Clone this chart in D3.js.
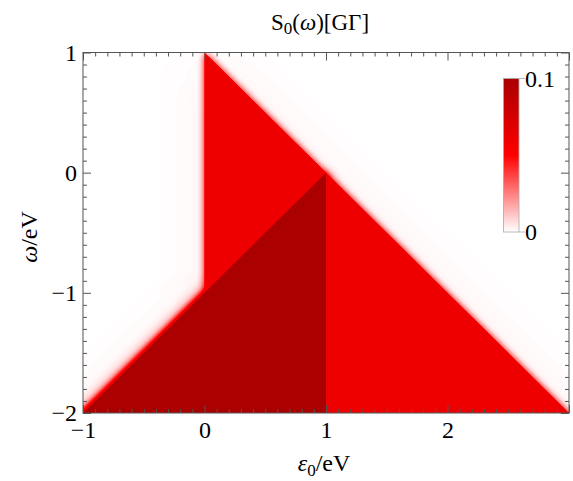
<!DOCTYPE html>
<html><head><meta charset="utf-8">
<script src="https://cdn.jsdelivr.net/npm/d3@7"></script>
<style>
html,body{margin:0;padding:0;background:#fff;}
text{font-family:"Liberation Serif","Times New Roman",serif;fill:#000;}
</style></head>
<body>
<svg id="chart" width="573" height="481"></svg>
<script>
// ---- data ----
const xDomain = [-1, 3];
const yDomain = [-2, 1];
const xTickLabels = [-1, 0, 1, 2];
const xMajorTicks = [-1, 0, 1, 2, 3];
const yTickLabels = [-2, -1, 0, 1];
// region polygons (epsilon_0, omega) (extended past the frame bottom)
const outerEps   = [-1.3, 0, 0, 3.3];
const outerOmega = [-2.3, -1, 1, -2.3];
const darkEps    = [-1.3, 1, 1];
const darkOmega  = [-2.3, 0, -2.3];
const outerValue = 0.06;
const darkValue  = 0.1;
const hazeValue  = 0.004;
const colorDomain = [0, 0.05, 0.1];
const colorRange  = ["#ffffff", "#ff0000", "#aa0000"];
const cbTicks = [0, 0.1];
const cbTickText = ["0", "0.1"];

const svg = d3.select("#chart");
const W = 573, H = 481;
const m = {left: 83, right: 569, top: 52.5, bottom: 413};
const x = d3.scaleLinear().domain(xDomain).range([m.left, m.right]);
const y = d3.scaleLinear().domain(yDomain).range([m.bottom, m.top]);
const vmax = colorDomain[colorDomain.length - 1];
const gray = v => { const g = Math.round(255 * v / vmax); return `rgb(${g},${g},${g})`; };
const line = d3.line().x(d => x(d[0])).y(d => y(d[1]));
const outerPts = outerEps.map((e, i) => [e, outerOmega[i]]);
const darkPts = darkEps.map((e, i) => [e, darkOmega[i]]);

const defs = svg.append("defs");
defs.append("clipPath").attr("id", "plotClip").append("rect")
  .attr("x", m.left).attr("y", m.top).attr("width", m.right - m.left).attr("height", m.bottom - m.top);
defs.append("clipPath").attr("id", "outsideOuter").append("path")
  .attr("clip-rule", "evenodd")
  .attr("d", `M0,0H${W}V${H}H0Z` + line(outerPts) + "Z");
function blurFilter(id, sd) {
  defs.append("filter").attr("id", id).attr("x", "-50%").attr("y", "-50%").attr("width", "200%").attr("height", "200%")
    .attr("color-interpolation-filters", "sRGB")
    .append("feGaussianBlur").attr("stdDeviation", sd);
}
blurFilter("blurHaze", 28);
blurFilter("blurEdge", 3.5);
blurFilter("blurWide", 8);
blurFilter("blurTiny", 0.7);
// color map filter: gray level -> colour through the colour scale
const cmap = defs.append("filter").attr("id", "cmap").attr("x", 0).attr("y", 0).attr("width", "100%").attr("height", "100%")
  .attr("color-interpolation-filters", "sRGB");
const ct = cmap.append("feComponentTransfer");
const cols = colorRange.map(c => d3.rgb(c));
ct.append("feFuncR").attr("type", "table").attr("tableValues", cols.map(c => (c.r / 255).toFixed(4)).join(" "));
ct.append("feFuncG").attr("type", "table").attr("tableValues", cols.map(c => (c.g / 255).toFixed(4)).join(" "));
ct.append("feFuncB").attr("type", "table").attr("tableValues", cols.map(c => (c.b / 255).toFixed(4)).join(" "));
ct.append("feFuncA").attr("type", "identity");

// ---- density image ----
const plot = svg.append("g").attr("clip-path", "url(#plotClip)");
const dens = plot.append("g").attr("filter", "url(#cmap)").style("isolation", "isolate");
dens.append("rect").attr("x", m.left - 2).attr("y", m.top - 2).attr("width", m.right - m.left + 4).attr("height", m.bottom - m.top + 4).attr("fill", "#000");
dens.append("path").attr("d", line(outerPts) + "Z").attr("fill", gray(hazeValue)).attr("filter", "url(#blurHaze)").style("mix-blend-mode", "lighten");
dens.append("path").attr("d", line(outerPts) + "Z").attr("fill", gray(outerValue)).attr("filter", "url(#blurEdge)").style("mix-blend-mode", "lighten");
const dOut = dens.append("g").attr("clip-path", "url(#outsideOuter)").style("mix-blend-mode", "lighten");
dOut.append("path").attr("d", line(darkPts) + "Z").attr("fill", gray(darkValue * 0.55)).attr("filter", "url(#blurWide)");
dOut.append("path").attr("d", line(darkPts) + "Z").attr("fill", gray(darkValue)).attr("filter", "url(#blurEdge)").style("mix-blend-mode", "lighten");
dens.append("path").attr("d", line(outerPts) + "Z").attr("fill", gray(outerValue)).attr("filter", "url(#blurTiny)").style("mix-blend-mode", "lighten");
dens.append("path").attr("d", line(darkPts) + "Z").attr("fill", gray(darkValue)).attr("filter", "url(#blurTiny)").style("mix-blend-mode", "lighten");

// ---- axes ----
const frameColor = "#555";
const minorX = d3.range(-10, 31).map(i => i / 10).filter(v => !xMajorTicks.includes(v));
const minorY = d3.range(-20, 11).map(i => i / 10).filter(v => !yTickLabels.includes(v));
const fmt = d => d3.format("d")(d);
function styleAxis(g) {
  g.select(".domain").remove();
  g.selectAll("line").attr("stroke", frameColor).attr("stroke-width", 1);
  g.selectAll("text").style("font-size", "24px").attr("fill", "#000").style("font-family", '"Liberation Serif", serif');
}
// bottom
svg.append("g").attr("transform", `translate(0,${m.bottom})`)
  .call(d3.axisBottom(x).tickValues(minorX).tickSize(-4).tickFormat("")).call(styleAxis);
svg.append("g").attr("transform", `translate(0,${m.bottom})`)
  .call(d3.axisBottom(x).tickValues(xMajorTicks).tickSize(-8).tickPadding(8).tickFormat(d => xTickLabels.includes(d) ? fmt(d) : "")).call(styleAxis);
// top
svg.append("g").attr("transform", `translate(0,${m.top})`)
  .call(d3.axisTop(x).tickValues(minorX).tickSize(-4).tickFormat("")).call(styleAxis);
svg.append("g").attr("transform", `translate(0,${m.top})`)
  .call(d3.axisTop(x).tickValues(xMajorTicks).tickSize(-8).tickFormat("")).call(styleAxis);
// left
svg.append("g").attr("transform", `translate(${m.left},0)`)
  .call(d3.axisLeft(y).tickValues(minorY).tickSize(-4).tickFormat("")).call(styleAxis);
svg.append("g").attr("transform", `translate(${m.left},0)`)
  .call(d3.axisLeft(y).tickValues(yTickLabels).tickSize(-8).tickPadding(6).tickFormat(fmt)).call(styleAxis);
// right
svg.append("g").attr("transform", `translate(${m.right},0)`)
  .call(d3.axisRight(y).tickValues(minorY).tickSize(-4).tickFormat("")).call(styleAxis);
svg.append("g").attr("transform", `translate(${m.right},0)`)
  .call(d3.axisRight(y).tickValues(yTickLabels).tickSize(-8).tickFormat("")).call(styleAxis);
// frame
svg.append("rect").attr("x", m.left).attr("y", m.top).attr("width", m.right - m.left).attr("height", m.bottom - m.top)
  .attr("fill", "none").attr("stroke", frameColor).attr("stroke-width", 1);

// ---- colorbar ----
const cb = {x: 503.5, w: 15.5, top: 78.5, bottom: 232};
const cbScale = d3.scaleLinear().domain([0, vmax]).range([cb.bottom, cb.top]);
const grad = defs.append("linearGradient").attr("id", "cbGrad").attr("x1", 0).attr("y1", 1).attr("x2", 0).attr("y2", 0);
colorDomain.forEach((v, i) => grad.append("stop").attr("offset", v / vmax).attr("stop-color", colorRange[i]));
svg.append("rect").attr("x", cb.x).attr("y", cb.top).attr("width", cb.w).attr("height", cb.bottom - cb.top)
  .attr("fill", "url(#cbGrad)").attr("stroke", "#aaa").attr("stroke-width", 0.8);
cbTicks.forEach((v, i) => {
  svg.append("line").attr("x1", cb.x + cb.w).attr("x2", cb.x + cb.w + 6).attr("y1", cbScale(v)).attr("y2", cbScale(v))
    .attr("stroke", "#aaa").attr("stroke-width", 0.8);
  svg.append("text").attr("x", cb.x + cb.w + 6).attr("y", cbScale(v)).attr("dy", "0.34em")
    .style("font-size", "24px").text(cbTickText[i]);
});

// ---- titles ----
const title = svg.append("text").attr("x", 320).attr("y", 30).attr("text-anchor", "middle").style("font-size", "23px");
title.append("tspan").text("S");
title.append("tspan").attr("dy", 4).style("font-size", "17px").text("0");
title.append("tspan").attr("dy", -4).text("(");
title.append("tspan").style("font-style", "italic").text("ω");
title.append("tspan").text(")[GΓ]");

const xl = svg.append("text").attr("x", 324).attr("y", 471).attr("text-anchor", "middle").style("font-size", "24px");
xl.append("tspan").style("font-style", "italic").text("ε");
xl.append("tspan").attr("dy", 5).style("font-size", "17px").text("0");
xl.append("tspan").attr("dy", -5).text("/eV");

const yl = svg.append("text").attr("transform", "translate(37,237) rotate(-90)").attr("text-anchor", "middle").style("font-size", "24px");
yl.append("tspan").style("font-style", "italic").text("ω");
yl.append("tspan").text("/eV");
</script>
</body></html>
